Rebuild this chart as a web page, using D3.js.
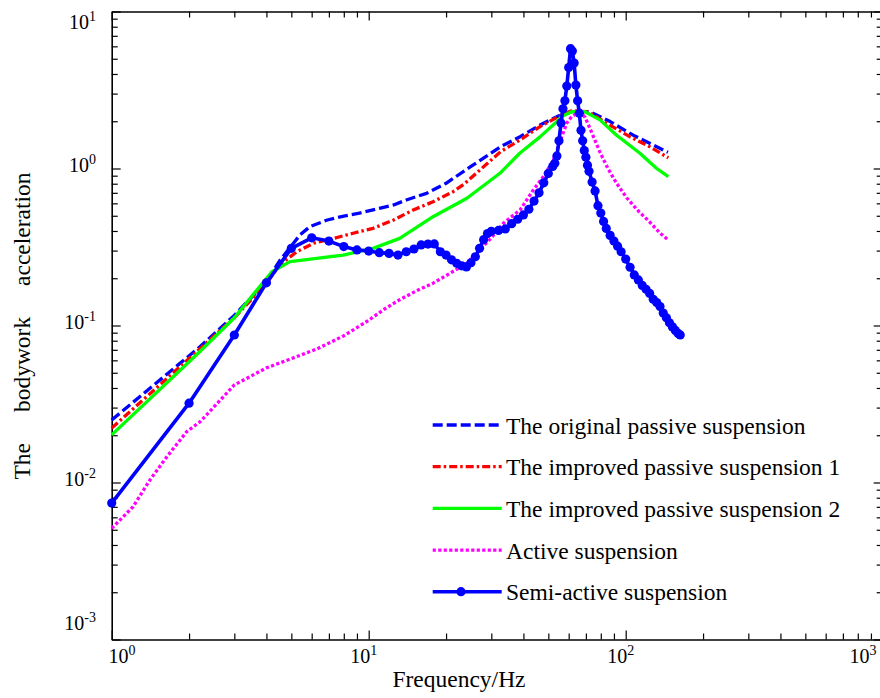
<!DOCTYPE html>
<html>
<head>
<meta charset="utf-8">
<script src="https://cdn.jsdelivr.net/npm/d3@7"></script>
<style>
  body { margin: 0; background: #fff; }
  svg { display: block; font-family: "Liberation Serif", "Times New Roman", serif; }
</style>
</head>
<body>
<div id="chart"></div>
<script>
// values: [frequency Hz, acceleration]
var origPassive = [[1,0.025],[2.2,0.073],[3,0.116],[4,0.19],[4.5,0.258],[5.4,0.377],[5.9,0.426],[6.9,0.47],[8,0.498],[9.2,0.519],[11,0.558],[12.5,0.586],[14,0.63],[16.8,0.695],[20,0.805],[25,1.03],[32.6,1.377],[38.8,1.594],[46.4,1.89],[54,2.14],[60.7,2.3],[72.6,2.3],[87,1.99],[107,1.63],[128,1.41],[146,1.27]];
var improved1 = [[1,0.0222],[2.2,0.0709],[3,0.112],[4,0.185],[4.5,0.243],[5.25,0.295],[6.1,0.334],[7.3,0.359],[8.7,0.387],[10.4,0.416],[12.5,0.47],[14.9,0.544],[17.8,0.614],[21.3,0.712],[23.4,0.79],[32.6,1.28],[38.8,1.52],[46.4,1.85],[54.7,2.14],[61.6,2.33],[71.5,2.3],[84.4,1.94],[104,1.59],[124,1.377],[146.5,1.17]];
var improved2 = [[1,0.0201],[2.2,0.068],[3,0.112],[4.2,0.22],[4.94,0.255],[6.28,0.268],[7.96,0.281],[10.4,0.31],[13.2,0.359],[17.8,0.493],[24.1,0.646],[32.4,0.932],[38.7,1.25],[46.4,1.59],[53.1,1.94],[56.3,2.14],[61.6,2.3],[69.5,2.3],[79.4,2.04],[92.2,1.63],[113.6,1.25],[132,1.0],[146.5,0.887]];
var active = [[1,0.0051],[1.21,0.007],[1.41,0.0104],[1.64,0.0146],[1.96,0.0211],[2.21,0.0244],[3,0.0418],[4,0.0537],[5,0.0615],[6.3,0.071],[8,0.086],[10,0.108],[11.5,0.127],[13.2,0.146],[15.3,0.166],[17.8,0.186],[20.7,0.215],[24.1,0.249],[26.3,0.29],[29.7,0.355],[33.4,0.448],[38.8,0.544],[43.7,0.73],[47.8,0.887],[52.3,1.13],[56.4,1.59],[58.9,1.94],[61.6,2.14],[64,2.22],[67,2.25],[69.5,2.12],[73.9,1.68],[79.4,1.27],[85.3,1.0],[92.5,0.797],[101,0.649],[112,0.536],[124,0.456],[136,0.388],[146.5,0.35]];
var semiActive = [[1,0.0074],[2,0.032],[3,0.087],[4,0.187],[5,0.31],[6,0.362],[7,0.345],[8,0.318],[9,0.303],[10,0.298],
  [11,0.291],[12,0.288],[13,0.281],[14,0.295],[15,0.307],[16,0.326],[17,0.33],[18,0.331],[19,0.295],[20,0.281],
  [21,0.262],[22,0.249],[23,0.24],[24,0.236],[25,0.251],[26,0.274],[27,0.31],[28,0.352],[29,0.385],[30,0.398],
  [32,0.403],[34,0.412],[36,0.445],[38,0.475],[40,0.506],[42,0.55],[44,0.62],[46,0.7],[48,0.81],[50,0.93],
  [52,1.03],[53,1.08],[54,1.2],[55,1.5],[56,1.95],[57,2.4],[58,2.7],[59,3.35],[60,4.4],[61,5.8],
  [62,5.6],[63,4.7],[64,3.4],[65,2.7],[66,2.25],[67,1.75],[68,1.5],[69,1.3],[70,1.18],[71,1.05],
  [72,0.96],[74,0.82],[76,0.72],[78,0.58],[80,0.52],[82,0.46],[84,0.415],[87,0.375],[90,0.345],[93,0.32],
  [96,0.295],[100,0.265],[104,0.235],[108,0.21],[112,0.195],[116,0.18],[120,0.17],[124,0.16],[128,0.147],[132,0.14],
  [136,0.132],[140,0.12],[144,0.112],[148,0.104],[152,0.098],[156,0.093],[160,0.089],[163,0.087]];

var legendLabels = ["The original passive suspension", "The improved passive suspension 1",
                    "The improved passive suspension 2", "Active suspension", "Semi-active suspension"];
var xMajor = [1, 10, 100, 1000];
var yMajor = [0.001, 0.01, 0.1, 1, 10];
var xTitle = "Frequency/Hz";
var yTitle = "The bodywork acceleration";

var width = 880, height = 698;

var series = [
    {data: origPassive, color: "#0000ff", dash: "10,4", w: 3.3},
    {data: improved1, color: "#ff0000", dash: "8,3,2.5,3", w: 3.3},
    {data: improved2, color: "#00ff00", dash: null, w: 3.3},
    {data: active, color: "#ff00ff", dash: "3.2,2.3", w: 3.3},
    {data: semiActive, color: "#0000ff", dash: null, w: 3.6, marker: true}
];

var svg = d3.select("#chart").append("svg")
    .attr("width", width)
    .attr("height", height);

svg.append("rect").attr("width", width).attr("height", height).attr("fill", "#fff");

var x = d3.scaleLog().domain([1, 1000]).range([111.7, 882.7]);
var y = d3.scaleLog().domain([0.001, 10]).range([639.5, 11.5]);

function isMajor(v) {
    var l = Math.log10(v);
    return Math.abs(l - Math.round(l)) < 1e-6;
}

// box with inward ticks on all four sides
function drawAxis(axis, tx, ty, attr, sign) {
    var g = svg.append("g")
        .attr("transform", "translate(" + tx + "," + ty + ")")
        .call(axis.tickFormat("").tickSizeOuter(0).tickSizeInner(-6));
    g.select(".domain").attr("stroke", "#000").attr("stroke-width", 1.6);
    g.selectAll(".tick line")
        .attr("stroke", "#000")
        .attr("stroke-width", 1.2)
        .attr(attr, d => sign * (isMajor(d) ? 9 : 6));
}
drawAxis(d3.axisBottom(x).tickValues(x.ticks()), 0, y.range()[0], "y2", -1);
drawAxis(d3.axisTop(x).tickValues(x.ticks()), 0, y.range()[1], "y2", 1);
drawAxis(d3.axisLeft(y).tickValues(y.ticks()), x.range()[0], 0, "x2", 1);
drawAxis(d3.axisRight(y).tickValues(y.ticks()), x.range()[1], 0, "x2", -1);

function powerLabel(sel, d) {
    sel.append("tspan").text("10");
    sel.append("tspan").attr("dy", -8).style("font-size", "14px").text(Math.round(Math.log10(d)));
}

svg.append("g").selectAll("text")
    .data(xMajor)
    .enter().append("text")
    .attr("x", d => Math.min(863, Math.max(122, x(d) - 5)))
    .attr("y", 663)
    .attr("text-anchor", "middle")
    .style("font-size", "20px")
    .each(function (d) { powerLabel(d3.select(this), d); });

svg.append("g").selectAll("text")
    .data(yMajor)
    .enter().append("text")
    .attr("x", 96)
    .attr("y", d => Math.min(623, Math.max(21.7, y(d) - 4)) + 7)
    .attr("text-anchor", "end")
    .style("font-size", "20px")
    .each(function (d) { powerLabel(d3.select(this), d); });

svg.append("text")
    .attr("x", 459)
    .attr("y", 687)
    .attr("text-anchor", "middle")
    .style("font-size", "23.5px")
    .text(xTitle);

svg.append("text")
    .attr("transform", "translate(30,326) rotate(-90)")
    .attr("text-anchor", "middle")
    .style("font-size", "23.5px")
    .style("word-spacing", "25px")
    .text(yTitle);

var line = d3.line()
    .x(d => x(d[0]))
    .y(d => y(d[1]));

series.forEach(function (s) {
    svg.append("path")
        .datum(s.data)
        .attr("d", line)
        .attr("fill", "none")
        .attr("stroke", s.color)
        .attr("stroke-width", s.w)
        .attr("stroke-dasharray", s.dash)
        .attr("stroke-linejoin", "round");
    if (s.marker) {
        svg.append("g").selectAll("circle")
            .data(s.data)
            .enter().append("circle")
            .attr("cx", d => x(d[0]))
            .attr("cy", d => y(d[1]))
            .attr("r", 4.6)
            .attr("fill", s.color);
    }
});

// legend, no frame
var legend = svg.append("g").attr("id", "legend");
var rowY = d3.scaleLinear().domain([0, 4]).range([425, 591.7]);

var entry = legend.selectAll("g")
    .data(series)
    .enter().append("g");

entry.append("line")
    .attr("x1", 432.7).attr("x2", 501.7)
    .attr("y1", (d, i) => rowY(i)).attr("y2", (d, i) => rowY(i))
    .attr("stroke", d => d.color)
    .attr("stroke-width", d => d.w)
    .attr("stroke-dasharray", d => d.dash);

entry.filter(d => d.marker).append("circle")
    .attr("cx", 461).attr("cy", rowY(4))
    .attr("r", 4.6)
    .attr("fill", d => d.color);

entry.append("text")
    .attr("x", 506)
    .attr("y", (d, i) => rowY(i) + 8.5)
    .style("font-size", "23.5px")
    .text((d, i) => legendLabels[i]);
</script>
</body>
</html>
